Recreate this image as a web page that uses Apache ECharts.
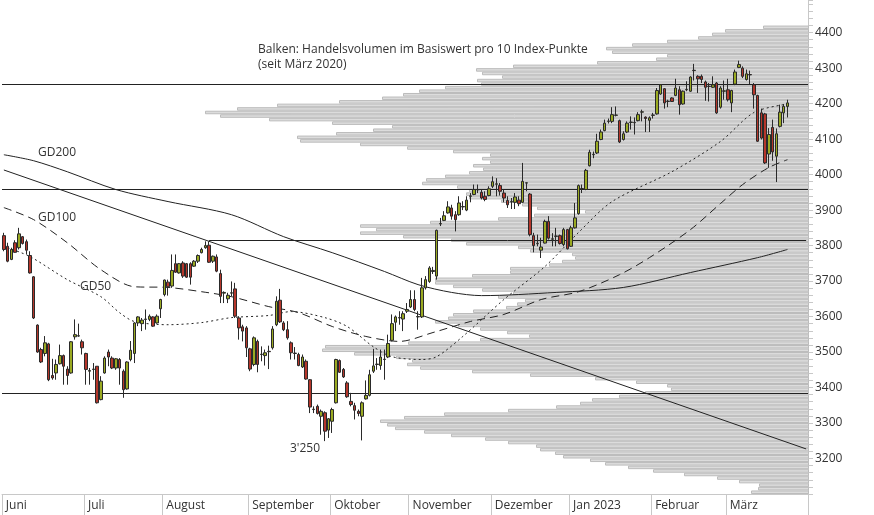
<!DOCTYPE html>
<html><head><meta charset="utf-8">
<script src="https://cdn.jsdelivr.net/npm/echarts@6/dist/echarts.min.js"></script>
<style>html,body{margin:0;padding:0;background:#fff}#c{width:874px;height:515px}</style>
</head><body><div id="c"></div>
<script>
// months: name + number of trading-day slots
const monthNames = ['Juni','Juli','August','September','Oktober','November','Dezember','Jan 2023','Februar','März'];
const monthDays  = [22,21,23,22,21,22,21,22,20,22];
// candles: [open, close, low, high]
const candles = [
[3828,3789,3784,3836],[3798,3756,3753,3808],[3761,3789,3759,3794],[3808,3781,3780,3815],[3794,3833,3789,3850],
[3825,3806,3803,3827],[3811,3787,3775,3817],[3772,3723,3721,3784],[3712,3596,3593,3714],[3576,3500,3498,3578],
[3507,3472,3469,3512],[3496,3526,3488,3545],[3523,3422,3418,3526],[3434,3427,3422,3481],[3441,3465,3422,3479],
[3467,3490,3465,3521],[3490,3460,3408,3493],[3452,3434,3408,3460],[3441,3529,3439,3531],[3543,3549,3535,3592],
[3545,3546,3543,3580],[3529,3512,3493,3535],[3496,3451,3408,3498],[3446,3448,3408,3455],[3451,3452,3422,3469],
[3460,3357,3355,3460],[3366,3418,3364,3432],[3441,3483,3439,3488],[3500,3486,3460,3507],[3483,3455,3452,3488],
[3455,3481,3450,3483],[3479,3455,3408,3483],[3446,3394,3371,3451],[3396,3472,3394,3474],[3479,3505,3474,3531],
[3496,3582,3469,3584],[3582,3599,3573,3601],[3580,3590,3559,3596],[3592,3593,3563,3620],[3592,3601,3587,3606],
[3599,3573,3571,3601],[3582,3601,3580,3606],[3622,3648,3596,3650],[3662,3703,3657,3704],[3697,3684,3659,3704],
[3686,3730,3681,3775],[3749,3725,3723,3775],[3723,3749,3721,3751],[3751,3714,3709,3756],[3749,3711,3709,3751],
[3749,3711,3690,3753],[3742,3756,3740,3759],[3756,3772,3751,3775],[3780,3789,3778,3794],[3794,3800,3791,3812],
[3801,3753,3751,3812],[3756,3770,3751,3772],[3768,3728,3725,3775],[3721,3657,3638,3732],[3666,3668,3638,3671],
[3650,3660,3638,3667],[3666,3667,3657,3699],[3678,3601,3596,3695],[3596,3568,3535,3601],[3571,3559,3530,3577],
[3568,3512,3486,3573],[3509,3452,3446,3512],[3465,3540,3460,3544],[3530,3465,3443,3535],[3493,3494,3474,3516],
[3490,3498,3462,3507],[3502,3501,3452,3518],[3512,3565,3507,3573],[3577,3643,3573,3657],[3646,3585,3582,3678],
[3582,3563,3559,3587],[3563,3540,3535,3587],[3526,3498,3479,3530],[3497,3496,3479,3514],[3493,3462,3460,3498],
[3458,3486,3455,3493],[3474,3424,3422,3479],[3422,3345,3328,3424],[3338,3339,3328,3347],[3347,3327,3324,3352],
[3319,3333,3267,3338],[3329,3277,3249,3333],[3280,3312,3258,3314],[3305,3338,3272,3343],[3357,3479,3355,3481],
[3476,3443,3441,3479],[3451,3430,3427,3455],[3413,3374,3371,3418],[3361,3352,3347,3385],[3349,3336,3310,3357],
[3333,3327,3319,3338],[3319,3357,3251,3361],[3368,3378,3366,3420],[3378,3436,3375,3450],[3446,3461,3441,3509],
[3465,3466,3450,3483],[3462,3486,3450,3507],[3479,3480,3422,3507],[3486,3524,3483,3549],[3533,3580,3530,3606],
[3584,3599,3559,3603],[3596,3597,3577,3615],[3593,3608,3559,3615],[3615,3620,3610,3638],[3627,3648,3624,3674],
[3648,3620,3615,3674],[3599,3600,3563,3615],[3599,3681,3596,3709],[3681,3704,3676,3714],[3699,3737,3695,3742],
[3727,3730,3720,3740],[3714,3843,3704,3845],[3861,3862,3855,3878],[3871,3884,3869,3897],[3892,3909,3890,3925],
[3906,3883,3873,3915],[3887,3873,3840,3897],[3887,3920,3884,3939],[3909,3910,3900,3925],[3900,3928,3897,3939],
[3939,3940,3922,3948],[3944,3958,3942,3972],[3957,3958,3948,3972],[3950,3934,3930,3958],[3939,3930,3925,3953],
[3941,3960,3939,3967],[3967,3980,3962,3995],[3973,3974,3939,3990],[3969,3953,3941,3976],[3948,3934,3922,3958],
[3927,3915,3906,3939],[3923,3924,3903,3934],[3922,3937,3903,3948],[3928,3918,3911,3939],[3922,3981,3920,4033],
[3976,3977,3953,3978],[3945,3831,3826,3948],[3828,3800,3781,3836],[3805,3806,3798,3831],[3787,3796,3765,3822],
[3807,3868,3806,3873],[3868,3821,3817,3883],[3818,3819,3798,3835],[3826,3827,3798,3850],[3828,3806,3803,3831],
[3803,3845,3798,3850],[3845,3791,3789,3847],[3798,3850,3796,3856],[3850,3878,3848,3920],[3890,3969,3887,3972],
[3960,3961,3948,3972],[3958,4012,3956,4016],[4025,4063,4023,4070],[4056,4057,4046,4065],[4061,4094,4058,4115],
[4099,4120,4097,4127],[4124,4145,4122,4155],[4150,4151,4144,4158],[4150,4169,4145,4190],[4167,4168,4164,4192],
[4152,4092,4089,4155],[4099,4115,4096,4122],[4120,4145,4117,4150],[4147,4148,4127,4164],[4147,4146,4113,4161],
[4152,4169,4150,4176],[4176,4177,4150,4183],[4162,4158,4120,4164],[4153,4160,4120,4164],[4167,4168,4158,4174],
[4171,4237,4169,4244],[4227,4253,4225,4255],[4242,4202,4186,4244],[4207,4206,4190,4211],[4216,4206,4205,4218],
[4223,4244,4221,4270],[4239,4197,4169,4249],[4199,4235,4197,4237],[4239,4240,4235,4263],[4235,4275,4233,4277],
[4293,4294,4265,4312],[4277,4270,4230,4280],[4277,4268,4258,4282],[4261,4246,4208,4265],[4249,4248,4206,4258],
[4246,4253,4244,4277],[4258,4174,4171,4261],[4190,4244,4186,4249],[4235,4236,4211,4265],[4239,4211,4206,4270],
[4202,4237,4176,4239],[4255,4289,4252,4296],[4302,4310,4300,4321],[4300,4277,4272,4305],[4268,4284,4265,4296],
[4282,4281,4255,4293],[4253,4225,4186,4258],[4223,4094,4092,4225],[4174,4103,4099,4186],[4171,4033,4030,4174],
[4058,4113,4019,4131],[4133,4064,4039,4155],[4052,4115,3979,4130],[4136,4176,4133,4197],[4174,4192,4145,4199],
[4192,4202,4161,4211]
];
// moving averages, sampled: [day index, value]
const gd200 = [[0,4056],[8,4039],[17,4008],[30,3958],[44,3924],[61,3887],[75,3825],[88,3780],[102,3727],[111,3690],[120,3668],[128,3659],[148,3668],[166,3682],[184,3724],[202,3766],[210,3789]];
const gd100 = [[0,3907],[8,3873],[17,3808],[26,3732],[35,3684],[44,3682],[53,3670],[61,3656],[71,3628],[79,3611],[88,3572],[97,3544],[106,3530],[115,3555],[125,3586],[134,3606],[144,3648],[154,3670],[165,3718],[173,3766],[184,3845],[192,3918],[198,3972],[205,4020],[210,4042]];
const gd50 = [[1,3794],[7,3769],[17,3704],[26,3656],[31,3611],[35,3586],[44,3577],[53,3583],[61,3597],[71,3603],[77,3614],[86,3597],[92,3572],[99,3515],[104,3487],[112,3479],[116,3487],[123,3544],[134,3648],[145,3741],[154,3837],[163,3924],[179,4008],[192,4093],[201,4175],[209,4197]];
const trend = [[0,4013],[215,3227]];
const levels = [4255,3960,3383];
const levelFromAug = 3816;
// volume profile: bucket lower bound (10 index points) and volume (relative units)
const profPrice = [];
for (let p=3100;p<=4410;p+=10) profPrice.push(p);
const profLeft = [751,758,759,739,717,684,653,628,605,590,563,555,540,536,508,485,451,424,395,387,380,404,444,508,556,580,592,619,645,671,667,636,595,530,472,420,407,412,396,354,322,325,408,480,529,507,480,458,435,448,453,473,506,517,525,498,513,482,453,435,435,472,510,510,549,562,575,572,530,518,466,451,403,360,376,360,430,498,534,585,537,522,501,469,466,469,457,422,426,445,469,483,473,490,482,490,453,407,360,300,297,336,373,392,332,269,220,205,237,277,339,382,403,419,445,481,477,502,482,476,513,597,656,667,612,606,632,667,698,712,725,763,804];
const profVol = profLeft.map(x => 808 - x);
const yTicks = [3200,3300,3400,3500,3600,3700,3800,3900,4000,4100,4200,4300,4400];

const cats = [], monthStart = new Set();
let k=0;
monthNames.forEach((m,i)=>{ monthStart.add(k); for(let d=0;d<monthDays[i];d++){cats.push(m+'|'+d);k++;} });
const candleData = cats.map((c,i)=> i<candles.length ? candles[i] : '-');

const chart = echarts.init(document.getElementById('c'));
const dark = '#222';
chart.setOption({
  animation:false,
  grid:{left:2,right:66,top:0,bottom:21},
  xAxis:[{
    type:'category',data:cats,boundaryGap:true,
    axisLine:{lineStyle:{color:'#c8c8c8'}},
    axisTick:{show:true,interval:(i)=>monthStart.has(i),length:21,lineStyle:{color:'#c8c8c8'}},
    axisLabel:{interval:(i)=>monthStart.has(i),formatter:v=>v.split('|')[0],align:'left',padding:[0,0,0,2],margin:6,
      color:'#333',fontFamily:'Open Sans',fontSize:12},
    splitLine:{show:false}
  },{
    type:'value',inverse:true,min:0,max:806,show:false
  }],
  yAxis:{
    type:'value',position:'right',min:3100,max:4492,interval:100,
    axisLine:{show:true,lineStyle:{color:'#c8c8c8'}},
    axisTick:{show:true,length:5,lineStyle:{color:'#c8c8c8'}},
    minorTick:{show:true,splitNumber:5,length:5,lineStyle:{color:'#c8c8c8'}},
    axisLabel:{color:'#333',fontFamily:'Open Sans',fontSize:12,margin:7,
      formatter:v=> yTicks.indexOf(v)>=0 ? String(v) : ''},
    splitLine:{show:false}
  },
  series:[
    {type:'custom',xAxisIndex:1,yAxisIndex:0,z:1,silent:true,
      data:profPrice.map((p,i)=>[p,profVol[i]]),
      encode:{x:1,y:0},
      renderItem:(params,api)=>{
        const p=api.value(0), v=api.value(1);
        const a=api.coord([v,p+10]), b=api.coord([0,p]);
        return {type:'rect',shape:{x:a[0]+0.5,y:a[1]+0.5,width:b[0]-a[0],height:b[1]-a[1]-1},
          style:{fill:'#dcdcdc',stroke:'#bcbcbc',lineWidth:1}};
      }},
    {type:'line',data:gd200,smooth:0.3,symbol:'none',z:4,lineStyle:{color:dark,width:1}},
    {type:'line',data:gd100,smooth:0.3,symbol:'none',z:4,lineStyle:{color:dark,width:1,type:[8,5]}},
    {type:'line',data:gd50,smooth:0.3,symbol:'none',z:4,lineStyle:{color:dark,width:1,type:[2,3]}},
    {type:'line',data:trend,symbol:'none',z:4,lineStyle:{color:dark,width:1}},
    {type:'candlestick',data:candleData,barWidth:3,z:5,
      itemStyle:{color:'#9aaa22',color0:'#b5362b',borderColor:'#2a2a2a',borderColor0:'#2a2a2a',borderWidth:1},
      markLine:{silent:true,symbol:['none','none'],label:{show:false},lineStyle:{color:dark,width:1,type:'solid'},
        data:levels.map(v=>({yAxis:v})).concat([[{coord:[55,levelFromAug]},{coord:[cats.length-1,levelFromAug]}]])}}
  ],
  graphic:[
    {type:'text',left:258,top:42,style:{text:'Balken: Handelsvolumen im Basiswert pro 10 Index-Punkte\n(seit März 2020)',fill:'#333',font:'12px "Open Sans"',lineHeight:15}},
    {type:'text',left:38,top:147,style:{text:'GD200',fill:'#333',font:'12px "Open Sans"'}},
    {type:'text',left:38,top:212,style:{text:'GD100',fill:'#333',font:'12px "Open Sans"'}},
    {type:'text',left:80,top:281,style:{text:'GD50',fill:'#333',font:'12px "Open Sans"'}},
    {type:'text',left:290,top:443,style:{text:"3'250",fill:'#333',font:'12px "Open Sans"'}}
  ]
});
</script></body></html>
